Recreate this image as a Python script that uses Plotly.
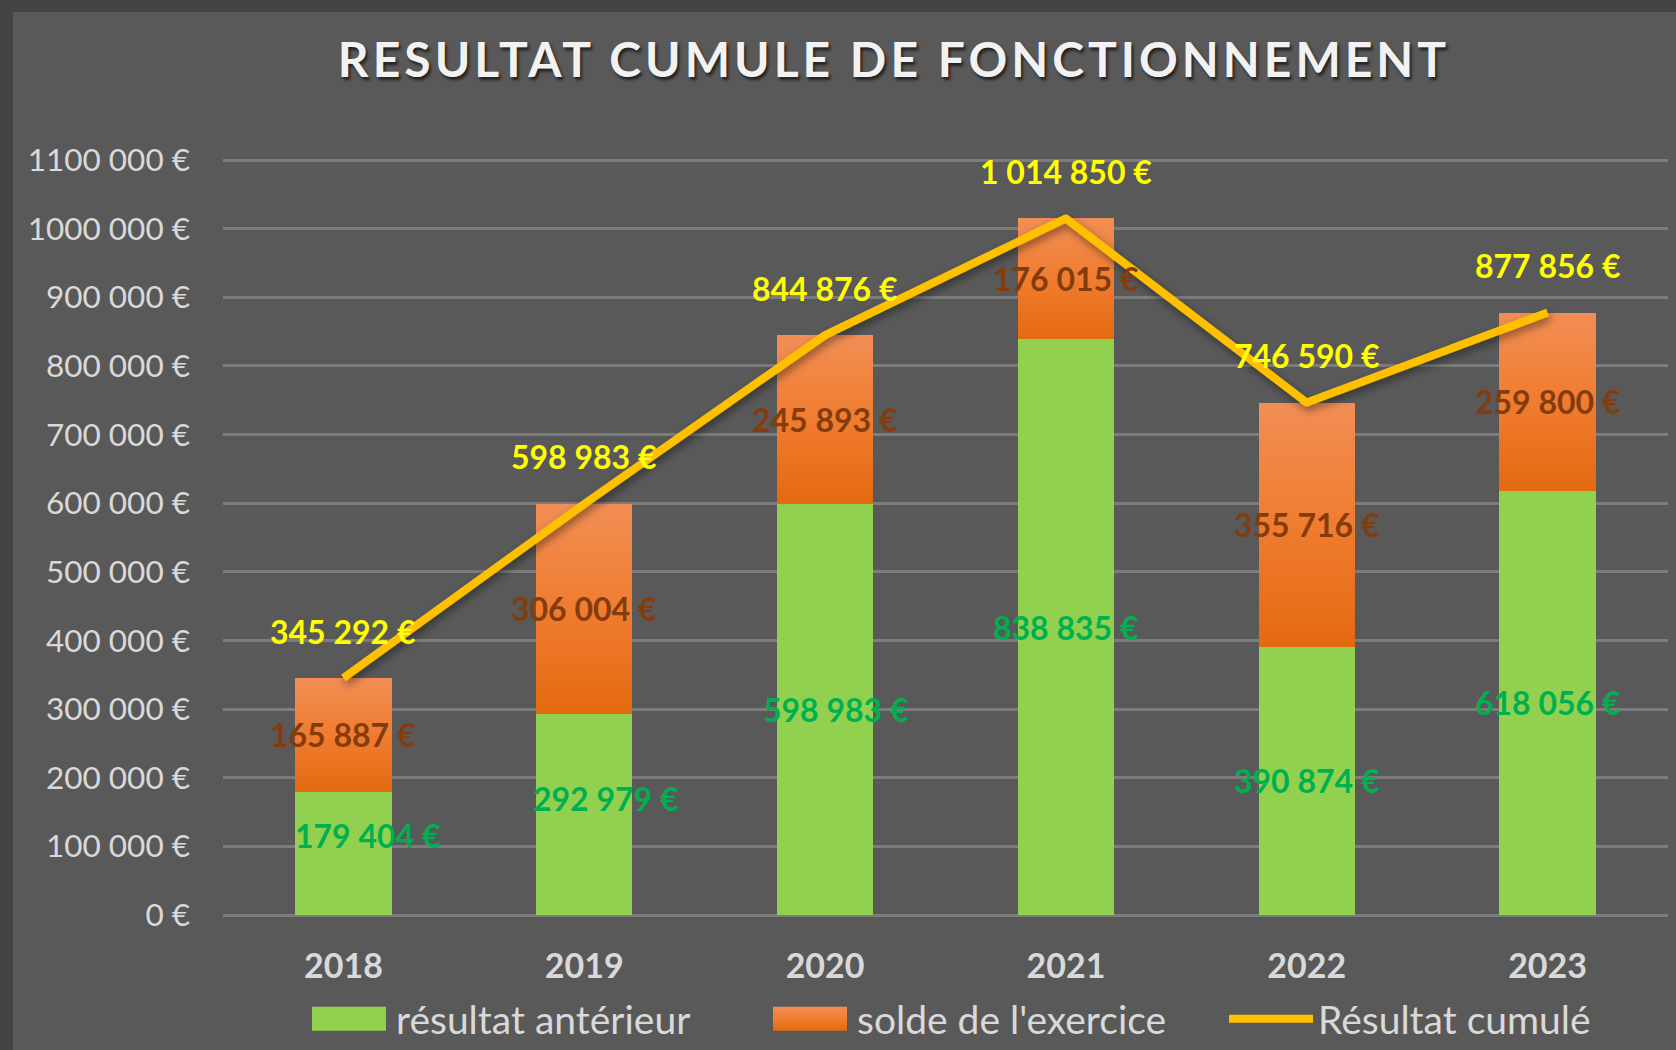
import plotly.graph_objects as go

# ---- data ----
years = ["2018", "2019", "2020", "2021", "2022", "2023"]
resultat_anterieur = [179404, 292979, 598983, 838835, 390874, 618056]
solde_exercice = [165887, 306004, 245893, 176015, 355716, 259800]
resultat_cumule = [345292, 598983, 844876, 1014850, 746590, 877856]

ytick_vals = [0, 100000, 200000, 300000, 400000, 500000, 600000, 700000,
              800000, 900000, 1000000, 1100000]
ytick_text = ["0 €", "100 000 €", "200 000 €", "300 000 €", "400 000 €",
              "500 000 €", "600 000 €", "700 000 €", "800 000 €", "900 000 €",
              "1000 000 €", "1100 000 €"]

# label nudges for the green labels (pixels), as in the original
green_dx = [25, 22, 11, 0, 0, 0]
green_dy = [18, 16, 0, 0, 0, 0]

FONT = "Lato, 'Open Sans', sans-serif"
BG = "#595959"
GREEN = "#92D050"
ORANGE = "#EE7C30"
GOLD = "#FFC000"
LBL = 32


def fmt(v):
    return f"{v:,}".replace(",", " ") + " €"


fig = go.Figure()
fig.add_trace(go.Bar(
    x=years, y=resultat_anterieur, name="résultat antérieur",
    marker=dict(color=GREEN, line=dict(width=0)),
))
fig.add_trace(go.Bar(
    x=years, y=solde_exercice, name="solde de l'exercice",
    marker=dict(color=ORANGE, line=dict(width=0)),
))
fig.add_trace(go.Scatter(
    x=years, y=resultat_cumule, name="Résultat cumulé", mode="lines",
    line=dict(color=GOLD, width=8),
))

annotations = []
for i, yr in enumerate(years):
    a = resultat_anterieur[i]
    s = solde_exercice[i]
    annotations.append(dict(
        x=i, y=a / 2, text=fmt(a), showarrow=False,
        xshift=green_dx[i], yshift=green_dy[i],
        font=dict(family=FONT, size=LBL, color="#00B050", weight="bold"),
    ))
    annotations.append(dict(
        x=i, y=a + s / 2, text=fmt(s), showarrow=False,
        font=dict(family=FONT, size=LBL, color="#843C0C", weight="bold"),
    ))
    annotations.append(dict(
        x=i, y=resultat_cumule[i], text=fmt(resultat_cumule[i]),
        showarrow=False, yshift=47,
        font=dict(family=FONT, size=LBL, color="#FFFF00", weight="bold"),
    ))

# plot area geometry (px): left 223, right 1668, top 159, bottom 915
W, H = 1676, 1050
L, R, T, B = 223, 1676 - 1668, 159, 1050 - 915
pw, ph = W - L - R, H - T - B


def px(xp):
    return (xp - L) / pw


def py(yp):
    return (H - B - yp) / ph


shapes = [
    dict(type="rect", xref="paper", yref="paper", layer="below",
         x0=px(0), x1=px(13), y0=py(H), y1=py(0),
         fillcolor="#444444", line=dict(width=0)),
    dict(type="rect", xref="paper", yref="paper", layer="below",
         x0=px(0), x1=px(W), y0=py(12), y1=py(0),
         fillcolor="#444444", line=dict(width=0)),
]

fig.update_layout(
    width=W, height=H,
    autosize=False,
    paper_bgcolor=BG, plot_bgcolor=BG,
    margin=dict(l=L, r=R, t=T, b=B, pad=0, autoexpand=False),
    barmode="stack", bargap=0.6,
    font=dict(family=FONT, color="#D9D9D9"),
    title=dict(
        text="RESULTAT CUMULE DE FONCTIONNEMENT",
        xref="container", yref="container",
        x=894 / W, xanchor="center",
        y=1 - 60 / H, yanchor="middle",
        font=dict(family=FONT, size=48, color="#F2F2F2", weight="bold",
                  shadow="2px 3px 3px #222222"),
    ),
    xaxis=dict(
        type="category", range=[-0.5, 5.5],
        showgrid=False, showline=False, zeroline=False,
        ticks="", ticklabelstandoff=28,
        tickfont=dict(family=FONT, size=34, color="#D9D9D9", weight="bold"),
    ),
    yaxis=dict(
        range=[0, 1101500], tickvals=ytick_vals, ticktext=ytick_text,
        showgrid=True, gridcolor="#7C7C7C", gridwidth=2.5,
        zeroline=True, zerolinecolor="#7C7C7C", zerolinewidth=2.5,
        showline=False, ticks="", ticklabelstandoff=32,
        tickfont=dict(family=FONT, size=31.5, color="#D9D9D9"),
    ),
    legend=dict(
        orientation="h", x=px(302), xanchor="left",
        y=py(1019), yanchor="middle",
        font=dict(family=FONT, size=39, color="#D9D9D9"),
        bgcolor="rgba(0,0,0,0)", itemwidth=84,
        entrywidth=362, entrywidthmode="pixels",
        traceorder="normal",
    ),
    annotations=annotations,
    shapes=shapes,
    showlegend=True,
)

post = """
document.body.style.margin = '0';
document.body.style.background = '#595959';
var gd = document.querySelector('.js-plotly-plot');
var t = gd.querySelector('.gtitle');
if (t) { t.style.letterSpacing = '4px'; }
try {
  var ns = 'http://www.w3.org/2000/svg';
  var svg = gd.querySelector('svg.main-svg');
  var defs = svg.querySelector('defs');
  if (!defs) { defs = document.createElementNS(ns, 'defs'); svg.insertBefore(defs, svg.firstChild); }
  var lg = document.createElementNS(ns, 'linearGradient');
  lg.setAttribute('id', 'orangeGrad');
  lg.setAttribute('x1', '0'); lg.setAttribute('y1', '0');
  lg.setAttribute('x2', '0'); lg.setAttribute('y2', '1');
  [['0', '#F28E55'], ['0.5', '#F07C30'], ['1', '#E46A10']].forEach(function (s) {
    var st = document.createElementNS(ns, 'stop');
    st.setAttribute('offset', s[0]); st.setAttribute('stop-color', s[1]);
    lg.appendChild(st);
  });
  defs.appendChild(lg);
  var f = document.createElementNS(ns, 'filter');
  f.setAttribute('id', 'softShadow');
  f.setAttribute('x', '-20%'); f.setAttribute('y', '-20%');
  f.setAttribute('width', '140%'); f.setAttribute('height', '140%');
  var ds = document.createElementNS(ns, 'feDropShadow');
  ds.setAttribute('dx', '2'); ds.setAttribute('dy', '4');
  ds.setAttribute('stdDeviation', '4');
  ds.setAttribute('flood-color', '#000000'); ds.setAttribute('flood-opacity', '0.45');
  f.appendChild(ds);
  defs.appendChild(f);
  var traces = gd.querySelectorAll('.barlayer .trace');
  if (traces.length > 1) {
    traces[1].querySelectorAll('path').forEach(function (p) { p.style.fill = 'url(#orangeGrad)'; });
  }
  var line = gd.querySelector('.scatterlayer .trace path.js-line');
  if (line) { line.setAttribute('filter', 'url(#softShadow)'); line.style.strokeLinejoin = 'round'; }
  var items = gd.querySelectorAll('.legend .traces');
  for (var k = 0; k < 2 && k < items.length; k++) {
    var ps = items[k].querySelectorAll('.legendpoints path');
    ps.forEach(function (p) {
      p.setAttribute('d', 'M37,12H-37V-12H37Z');
      if (k === 1) { p.style.fill = 'url(#orangeGrad)'; }
    });
  }
} catch (e) {}
"""
fig.write_html("out.html", post_script=post, config={"displayModeBar": False})
